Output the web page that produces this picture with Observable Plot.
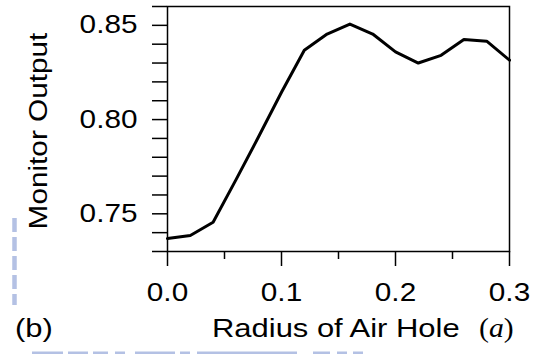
<!DOCTYPE html>
<html>
<head>
<meta charset="utf-8">
<script src="https://cdn.jsdelivr.net/npm/d3@7"></script>
<script src="https://cdn.jsdelivr.net/npm/@observablehq/plot@0.6"></script>
<style>
  html, body { margin: 0; padding: 0; background: #fff; }
  #wrap { position: relative; width: 536px; height: 354px; overflow: hidden; font-family: "Liberation Sans", Arial, sans-serif; color: #000; }
  #deco { position: absolute; left: 0; top: 0; }
  #chart { position: absolute; left: 0; top: 0; }
  #ylabel { position: absolute; left: 38px; top: 131px; transform: translate(-50%, -50%) rotate(-90deg) scaleX(1.19); white-space: nowrap; font-size: 25px; }
  .lbl { position: absolute; white-space: nowrap; font-size: 26px; line-height: 26px; transform-origin: left center; transform: scaleX(1.19); }
  #xlabel { left: 212px; top: 315px; }
  #unit { left: 479px; top: 315px; font-family: "Liberation Serif", "Times New Roman", serif; font-size: 27px; transform: scaleX(1.1); }
  #unit i { font-style: italic; }
  #panel { left: 15px; top: 315px; }
</style>
</head>
<body>
<div id="wrap">
  <svg id="deco" width="536" height="354">
    <line x1="14.5" y1="218" x2="14.5" y2="305" stroke="#b4c1e4" stroke-width="4.5" stroke-dasharray="14 5"/>
    <line x1="32" y1="353.5" x2="365" y2="353.5" stroke="#b4c1e4" stroke-width="4" stroke-dasharray="31 5 20 5 15 7 10 10 40 5 10 7 100 16 17 7 10 6 10 200"/>
  </svg>
  <div id="chart"></div>
  <div id="ylabel">Monitor Output</div>
  <div id="xlabel" class="lbl">Radius of Air Hole</div>
  <div id="unit" class="lbl">(<i>a</i>)</div>
  <div id="panel" class="lbl">(b)</div>
</div>
<script>
// Data
const radius = [0.00, 0.02, 0.04, 0.06, 0.08, 0.10, 0.12, 0.14, 0.16, 0.18, 0.20, 0.22, 0.24, 0.26, 0.28, 0.30];
const monitorOutput = [0.7369, 0.7385, 0.7455, 0.768, 0.791, 0.8145, 0.8368, 0.8454, 0.8507, 0.8454, 0.8359, 0.8300, 0.8341, 0.8425, 0.8416, 0.8315];

// Ticks
const xMajorTicks = [0.0, 0.1, 0.2, 0.3];
const xMinorTicks = [0.05, 0.15, 0.25];
const yAllTicks = [0.73, 0.74, 0.75, 0.76, 0.77, 0.78, 0.79, 0.80, 0.81, 0.82, 0.83, 0.84, 0.85, 0.86];
const yLabelTicks = [0.75, 0.80, 0.85];

const data = radius.map((r, i) => ({radius: r, output: monitorOutput[i]}));

const chart = Plot.plot({
  width: 536,
  height: 354,
  marginLeft: 167,
  marginRight: 27,
  marginTop: 6,
  marginBottom: 103,
  style: {fontFamily: "'Liberation Sans', Arial, sans-serif", fontSize: "25px", color: "#000", background: "transparent"},
  x: {domain: [0, 0.3]},
  y: {domain: [0.73, 0.86]},
  marks: [
    Plot.axisX({ticks: xMajorTicks, tickSize: 15, tickPadding: 17, tickFormat: d3.format(".1f"), label: null, stroke: "#000", strokeWidth: 1.5, fill: "#000"}),
    Plot.axisX({ticks: xMinorTicks, tickSize: 8, text: null, label: null, stroke: "#000", strokeWidth: 1.5}),
    Plot.axisY({ticks: yAllTicks, tickSize: 15, text: null, label: null, stroke: "#000", strokeWidth: 1.5}),
    Plot.axisY({ticks: yLabelTicks, tickSize: 15, tickPadding: 15, tickFormat: d3.format(".2f"), label: null, fill: "#000", strokeOpacity: 0}),
    Plot.frame({stroke: "#000", strokeWidth: 1.5}),
    Plot.line(data, {x: "radius", y: "output", stroke: "#000", strokeWidth: 3, strokeLinejoin: "round"})
  ]
});
document.getElementById("chart").appendChild(chart);
// widen tick labels horizontally about their anchor point, as in the reference artwork
function widen(selector, anchor) {
  chart.querySelectorAll(selector).forEach(t => {
    const b = t.getBBox();
    const ax = anchor === "end" ? b.x + b.width : b.x + b.width / 2;
    const tr = t.getAttribute("transform") || "";
    t.setAttribute("transform", `${tr} translate(${ax},0) scale(1.19,1) translate(${-ax},0)`);
  });
}
widen('[aria-label="x-axis tick label"] text', "middle");
widen('[aria-label="y-axis tick label"] text', "end");
</script>
</body>
</html>
